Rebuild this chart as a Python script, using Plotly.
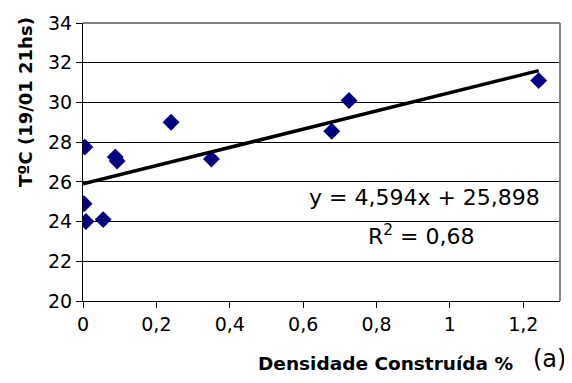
import plotly.graph_objects as go

# dados (a)
densidade = [0.003, 0.005, 0.008, 0.055, 0.088, 0.093, 0.24, 0.35, 0.678, 0.725, 1.242]
temperatura = [24.9, 27.75, 24.0, 24.1, 27.25, 27.05, 29.0, 27.15, 28.55, 30.1, 31.1]

# linha de tendência (Excel)
inclinacao = 4.594
intercepto = 25.898

x_tend = [0, max(densidade)]
y_tend = [inclinacao * x + intercepto for x in x_tend]

fig = go.Figure()

fig.add_trace(go.Scatter(x=densidade, y=temperatura, mode='markers',
                         marker=dict(symbol='diamond', size=13, color='#000080'),
                         showlegend=False))
fig.add_trace(go.Scatter(x=x_tend, y=y_tend, mode='lines',
                         line=dict(color='black', width=3.5), showlegend=False))

fonte = dict(family='DejaVu Sans, sans-serif', color='black')
fonte_neg = dict(family='DejaVu Sans, sans-serif', color='black', weight='bold')

# a página tem 8px de margem no body, por isso a figura é menor que a janela
fig.update_layout(
    width=564, height=367,
    margin=dict(l=75, r=12, t=15, b=74, autoexpand=False),
    plot_bgcolor='white', paper_bgcolor='white',
    separators=',.',
    font=dict(size=19, **fonte),
    xaxis=dict(range=[0, 1.3], tickvals=[0, 0.2, 0.4, 0.6, 0.8, 1, 1.2],
               showgrid=False, zeroline=False, showline=True, linecolor='black',
               linewidth=1, ticks='outside', ticklen=6, tickcolor='black',
               tickfont=dict(size=19), automargin=False),
    yaxis=dict(range=[20, 34], dtick=2, showgrid=True, gridcolor='black', gridwidth=1,
               zeroline=False, showline=True, linecolor='black', linewidth=1,
               ticks='outside', ticklen=6, tickcolor='black',
               tickfont=dict(size=19), automargin=False),
    shapes=[
        # borda cinza superior e direita
        dict(type='line', xref='x domain', yref='y domain', x0=0, x1=1, y0=1, y1=1,
             line=dict(color='#808080', width=2), layer='above'),
        dict(type='line', xref='x domain', yref='y domain', x0=1, x1=1, y0=0, y1=1,
             line=dict(color='#808080', width=2), layer='above'),
    ],
    annotations=[
        dict(text='y = 4,594x + 25,898', x=1.25, y=25.2, xref='x', yref='y',
             xanchor='right', yanchor='middle', showarrow=False,
             font=dict(size=22, **fonte)),
        dict(text='R<sup>2</sup> = 0,68', x=1.075, y=23.33, xref='x', yref='y',
             xanchor='right', yanchor='middle', showarrow=False,
             font=dict(size=22, **fonte)),
        dict(text='TºC (19/01 21hs)', x=25, y=102, textangle=-90, showarrow=False,
             font=dict(size=18, **fonte_neg)),
        dict(text='Densidade Construída %', x=385, y=363, showarrow=False,
             font=dict(size=18.5, **fonte_neg)),
        dict(text='(a)', x=549, y=359, showarrow=False, font=dict(size=24, **fonte)),
    ],
)

# posições em pixels da página para os títulos (convertidas para papel)
for a in fig.layout.annotations[2:]:
    a.x = (a.x - 83) / 477
    a.y = 1 - (a.y - 23) / 278
    a.xref = 'paper'
    a.yref = 'paper'
    a.xanchor = 'center'
    a.yanchor = 'middle'

fig.write_html('out.html')
